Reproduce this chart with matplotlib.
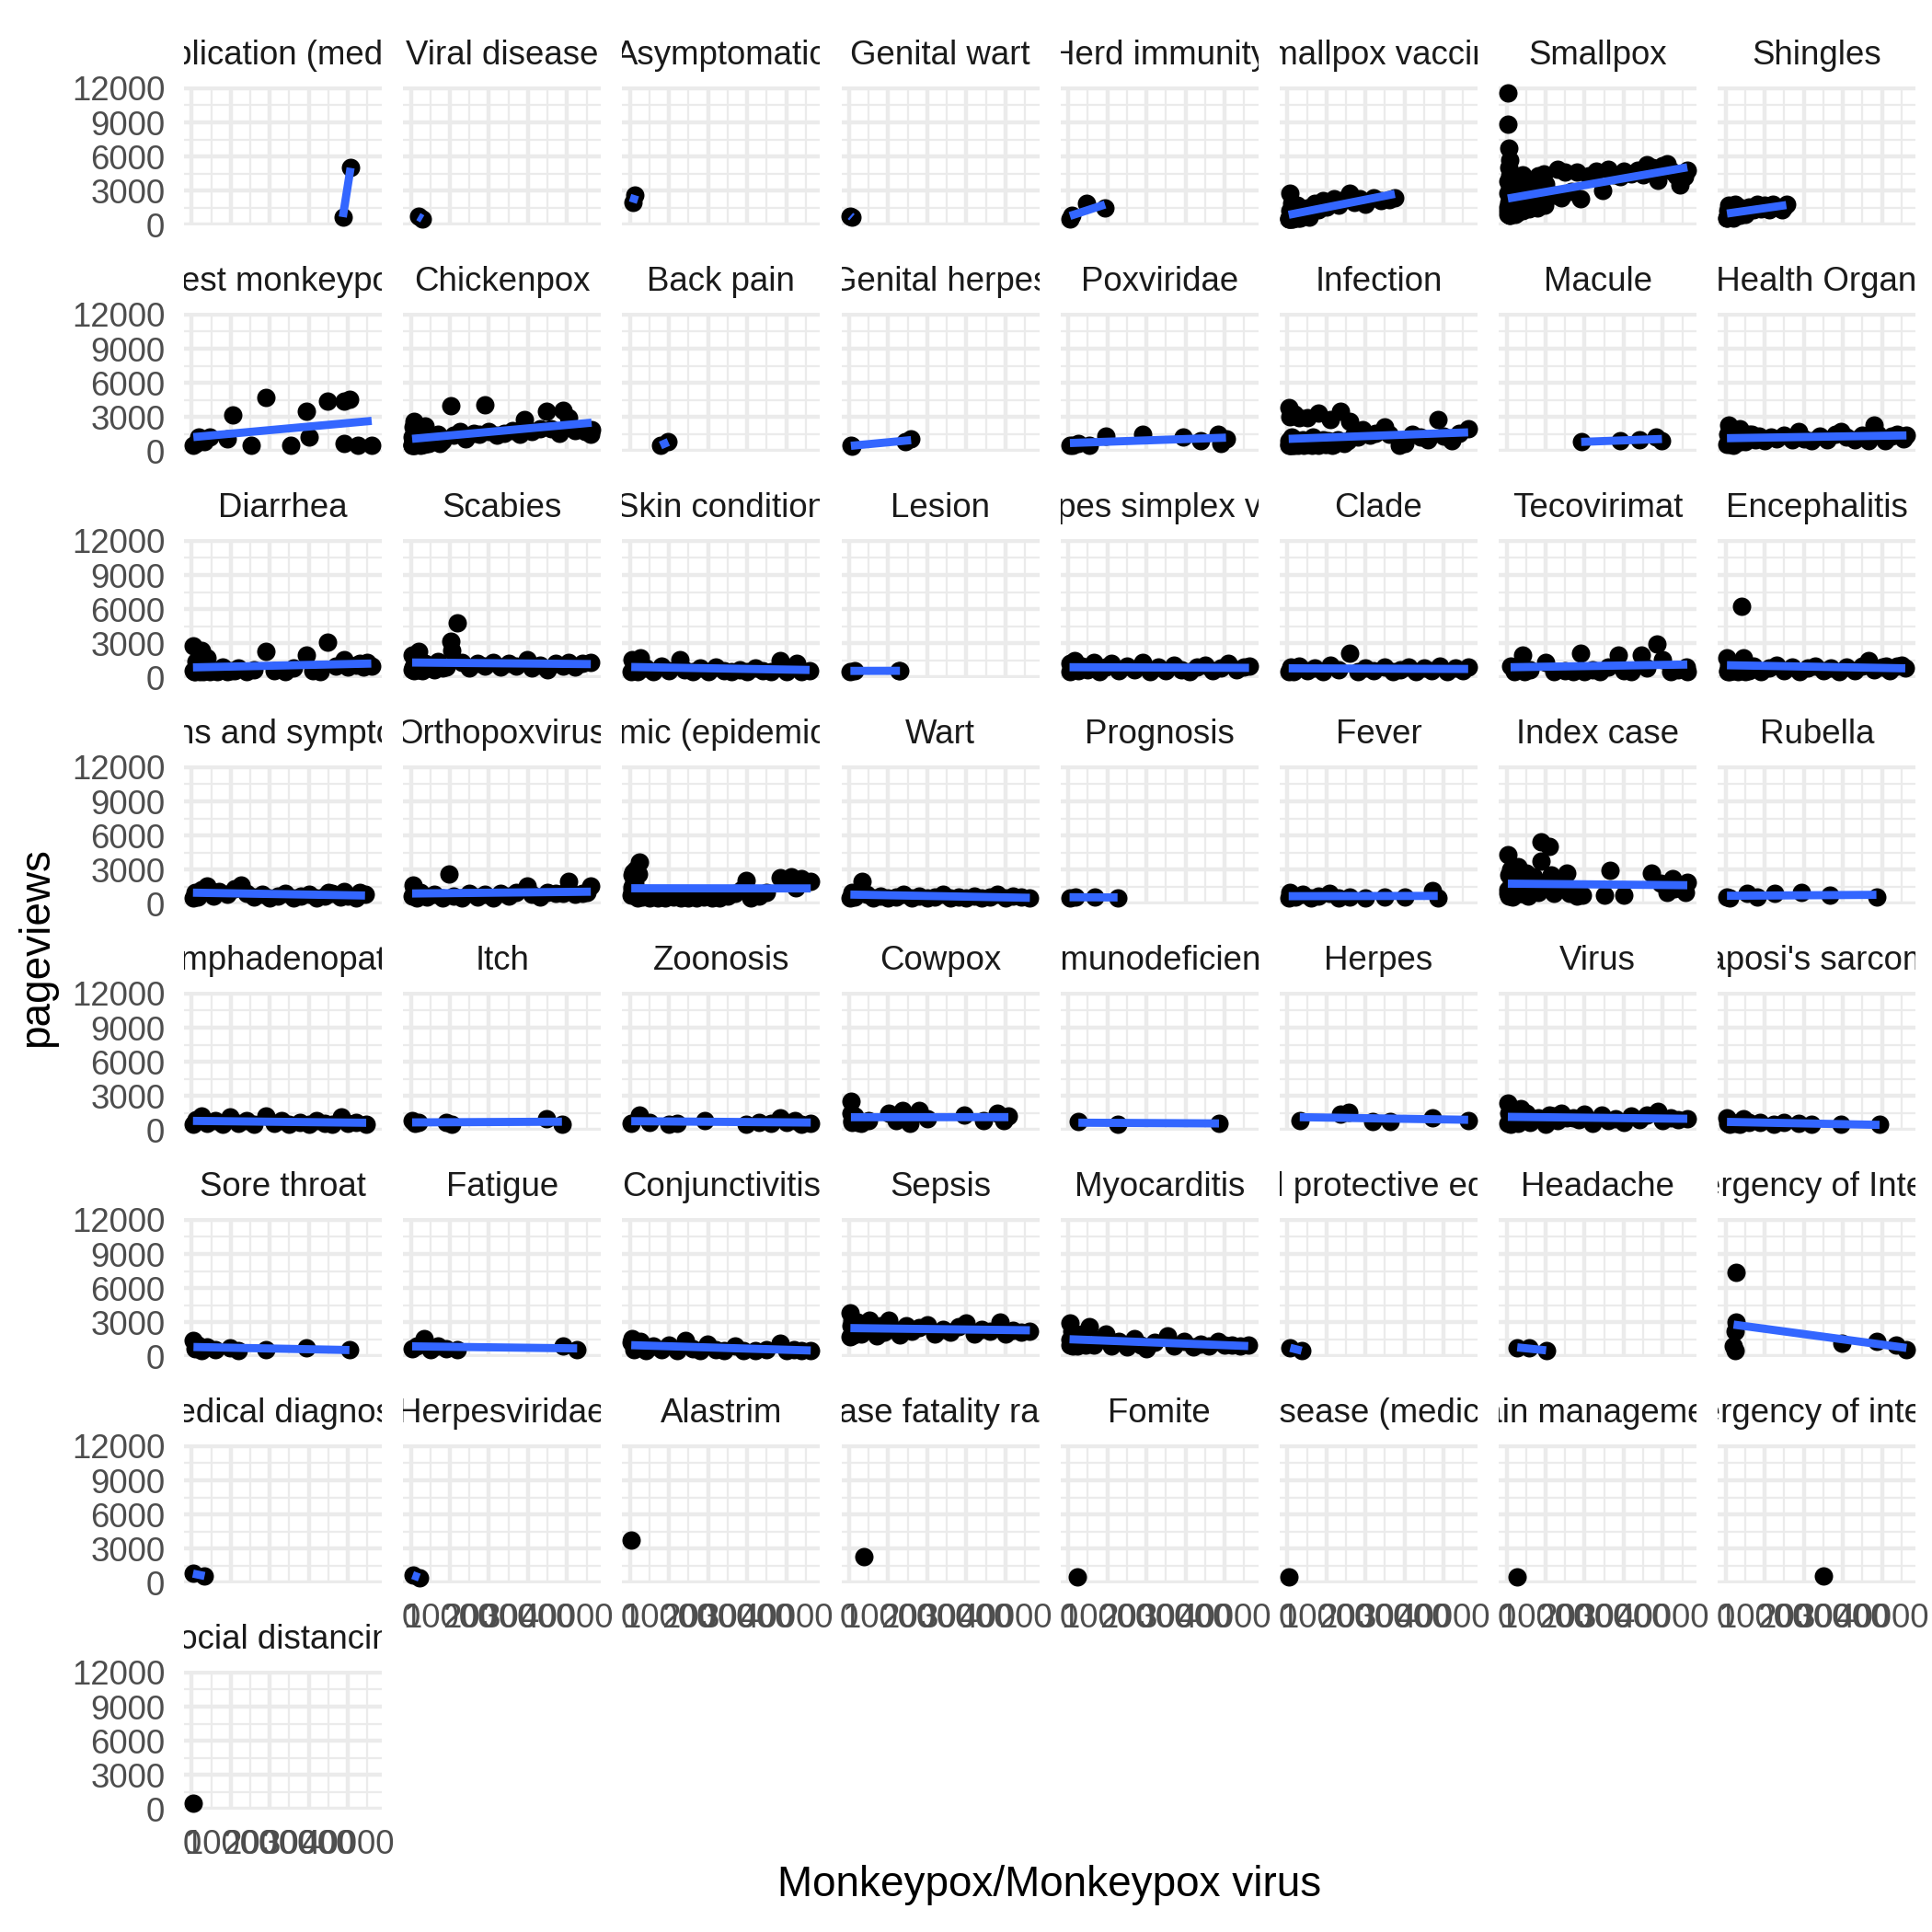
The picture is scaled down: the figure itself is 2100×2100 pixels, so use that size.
#!/usr/bin/env python3
"""Pageviews of articles linked from Monkeypox vs. Monkeypox pageviews, one facet per article."""

import numpy as np
import matplotlib
matplotlib.use("Agg")
import matplotlib.pyplot as plt
from matplotlib.transforms import Bbox, TransformedBbox

plt.rcParams["font.family"] = ["Liberation Sans", "DejaVu Sans"]

# x = daily pageviews of "Monkeypox/Monkeypox virus", y = pageviews of the facet article
complication_x = [38700, 40700]
complication_y = [680, 5000]
viral_disease_x = [1900, 2900]
viral_disease_y = [720, 520]
asymptomatic_x = [700, 1300]
asymptomatic_y = [1950, 2600]
genital_wart_x = [300, 700]
genital_wart_y = [780, 660]
herd_immunity_x = [400, 900, 4700, 9400]
herd_immunity_y = [500, 800, 1850, 1500]
smallpox_vaccine_x = [300, 500, 700, 900, 1100, 1300, 1500, 1800, 2000, 2500, 3000, 3500, 4000, 5000,
                      5500, 6000, 7000, 8000, 9000, 10000, 11000, 12000, 13000, 14500, 16000, 17000,
                      18500, 20000, 22000, 24000, 26000, 27500,
                      400, 600, 800, 1200, 1600, 2200, 3200, 4500, 350, 650, 1000, 1400, 2800]
smallpox_vaccine_y = [500, 1200, 2800, 800, 1900, 500, 1400, 600, 1000, 1700, 800, 1200, 900, 1500,
                      700, 1200, 1900, 1300, 2100, 1600, 1900, 2300, 1700, 2200, 2800, 2000,
                      2300, 1800, 2400, 2100, 2200, 2400,
                      600, 500, 700, 600, 800, 700, 600, 800, 500, 600, 500, 700, 600]
smallpox_x = [300, 400, 600, 900, 500, 700, 300, 800, 400, 1000, 600, 300, 1200, 500, 900, 1500, 1800,
              2000, 2500, 2800, 3000, 3500, 4000, 4500, 5000, 5500, 6000, 7000, 7500, 8000, 9000,
              9500, 10000, 11000, 12000, 13000, 14000, 15000, 16500, 18000, 19000, 21000, 23000,
              24500, 26000, 27500, 29000, 30000, 32000, 35000, 37300, 38700, 40000, 42300, 44400,
              45500, 46300,
              350, 450, 550, 650, 750, 850, 1100, 1300, 1600, 2200, 2600, 3200, 3800, 4200, 5200,
              6500, 7200, 8500, 33500, 36000, 41000, 43500,
              400, 600, 800, 1000, 1400, 1700, 2100, 2400, 2700, 3300, 4100, 4700, 5800, 6800, 7800,
              8800, 9800]
smallpox_y = [11600, 8800, 6700, 5700, 5000, 4300, 3800, 3300, 2800, 2400, 2000, 1600, 1300, 1000,
              800, 2900, 3600, 4200, 1800, 2600, 1200, 3000, 4400, 1500, 2200, 3800, 2900, 1900,
              3300, 4300, 2500, 4500, 3600, 2800, 2600, 4900, 2400, 4600, 2900, 4600, 2300, 4300,
              4700, 3000, 4900, 4400, 4200, 4700, 4500, 4400, 5000, 3900, 5200, 4700, 3500,
              4200, 4800,
              1200, 900, 1500, 1100, 1800, 1000, 1300, 1600, 1200, 1500, 1100, 1700, 1400, 1900, 1600,
              2000, 1800, 2100, 4800, 5300, 5400, 4300,
              900, 1100, 800, 1200, 1000, 1300, 900, 1400, 1100, 1500, 1200, 1600, 1400, 1700, 1500,
              1900, 1700]
shingles_x = [300, 400, 600, 800, 1000, 1500, 2000, 2500, 3000, 4000, 5000, 6000, 7000, 8000, 9000,
              10000, 11000, 12000, 13500, 14500, 15000, 15500, 350, 700, 1200, 1800, 3500]
shingles_y = [600, 1200, 800, 1700, 1000, 1400, 600, 1800, 1200, 1500, 900, 1600, 1300, 1800, 1400,
              1700, 1300, 1800, 1500, 1300, 1600, 1800, 600, 700, 800, 900, 800]
midwest_x = [400, 1140, 1860, 3280, 4700, 9000, 10400, 15100, 19000, 25400, 29400, 30100, 34700,
             39000, 40400, 39000, 42600, 46100]
midwest_y = [500, 670, 1200, 800, 1200, 1070, 3200, 530, 4720, 530, 3470, 1200, 4400, 4400, 4530,
             670, 530, 530]
chickenpox_x = [300, 400, 500, 700, 900, 1200, 1500, 1800, 2000, 2500, 3000, 3500, 4000, 5000, 6000,
                7000, 8000, 10100, 11000, 12500, 14000, 16000, 17500, 19000, 20000, 22000, 24000,
                26000, 28000, 29000, 31000, 33000, 34700, 36000, 38000, 39000, 40400, 42000, 44700,
                46300, 46000, 400, 600, 800, 1000, 1400, 2200, 2800, 4500,
                350, 700, 1100, 1600, 2400, 3300, 5500, 7500]
chickenpox_y = [500, 1200, 2100, 1600, 2600, 900, 2300, 1400, 600, 1900, 1100, 2200, 700, 1300, 1000,
                1500, 900, 4000, 1400, 1700, 1100, 1600, 1500, 4080, 1700, 1400, 1600, 1800, 1500,
                2800, 1700, 2000, 3470, 2000, 1600, 3600, 2930, 1800, 1730, 1870, 1500,
                600, 900, 500, 700, 600, 800, 600, 700,
                500, 600, 500, 700, 500, 600, 800, 700]
back_pain_x = [7800, 9800]
back_pain_y = [500, 800]
genital_herpes_x = [430, 700, 14300, 15850]
genital_herpes_y = [500, 450, 800, 1070]
poxviridae_x = [400, 1140, 2570, 5400, 9700, 19000, 29400, 34000, 38300, 39000, 40400]
poxviridae_y = [500, 530, 670, 500, 1330, 1470, 1200, 930, 1470, 670, 1070]
infection_x = [300, 300, 400, 500, 700, 900, 1100, 1300, 1500, 1800, 2000, 2300, 2600, 3000, 3300,
               3700, 4000, 4500, 5000, 5500, 6000, 6500, 7000, 7850, 8500, 9000, 9500, 10500, 11000,
               12000, 12800, 13600, 14500, 15500, 16000,
               350, 600, 800, 1200, 1700, 2200, 2800, 3500, 4200, 5200, 6200, 7500, 8000, 10000, 11500,
               17000, 18000, 19300, 21000, 22500, 25000, 26000, 28600, 30000, 32000, 34000, 36000,
               38600, 40000, 42100, 44000, 46300]
infection_y = [3800, 600, 900, 3000, 500, 700, 1200, 500, 800, 3300, 600, 1000, 700, 2900, 600,
               800, 1000, 600, 2930, 800, 700, 1200, 600, 3330, 700, 1000, 600, 900, 2800,
               600, 1000, 3470, 700, 900, 2600,
               500, 700, 500, 600, 500, 700, 500, 600, 500, 600, 500, 700, 500, 600, 500,
               1500, 1200, 1870, 1400, 1600, 2130, 1500, 500, 700, 1500, 1200, 1000,
               2800, 1300, 930, 1600, 2000]
macule_x = [19100, 29100, 34100, 38300, 39800]
macule_y = [800, 930, 990, 1200, 930]
who_x = [300, 400, 700, 1000, 1300, 1600, 2000, 2500, 3000, 3500, 4200, 5000, 6000, 6600, 7500, 8500,
         10000, 11500, 13000, 15000, 17000, 18700, 20000, 22000, 24000, 26000, 28000, 29400, 31000,
         33000, 35000, 36600, 37900, 39000, 40800, 42500, 44000, 45500, 46300,
         500, 900, 1500, 2300, 3800]
who_y = [600, 1500, 2270, 900, 1800, 1200, 500, 1600, 1000, 2000, 1300, 800, 1500, 1470, 1000, 1300,
         900, 1200, 1100, 1400, 1000, 1730, 1100, 900, 1300, 1000, 1500, 1730, 1200,
         1000, 1400, 930, 2270, 1500, 930, 1300, 1500, 1070, 1400,
         700, 600, 800, 700, 800]
diarrhea_x = [300, 600, 1000, 1500, 2570, 3000, 4000, 5000, 6500, 8000, 10000, 12000, 14000, 16000,
              19000, 21000, 24000, 26000, 29400, 31000, 33000, 34700, 37000, 39000, 40000, 42000,
              44000, 46000, 400, 800, 1200, 2000, 3500, 4500, 7000, 9000, 11000, 45000, 43000]
diarrhea_y = [2800, 500, 1400, 800, 2400, 500, 1730, 700, 500, 900, 600, 800, 500, 700,
              2270, 600, 500, 800, 2000, 600, 500, 3070, 1000, 1600, 900, 1100,
              900, 1000, 600, 500, 700, 500, 600, 500, 600, 500, 600, 1300, 1200]
scabies_x = [300, 600, 1000, 1850, 2500, 3500, 5000, 7000, 9000, 10100, 10400, 11900, 13000, 15000,
             17000, 19000, 21000, 23000, 25000, 27000, 29700, 31000, 33000, 35000, 37000, 39000,
             40400, 42000, 44000, 46100, 400, 800, 1300, 2000, 3000, 4000, 6000, 8000]
scabies_y = [2000, 900, 1500, 2270, 700, 1200, 1000, 1400, 900, 3200, 2400, 4800, 1300, 800,
             1200, 1000, 1300, 900, 1200, 1000, 1600, 800, 1100, 700, 1200, 1000,
             1330, 900, 1200, 1330, 700, 600, 900, 700, 600, 800, 700, 800]
skin_condition_x = [300, 570, 1000, 2000, 2700, 4000, 6000, 8000, 10000, 12700, 14000, 16000, 18000,
                    20000, 22000, 24000, 26000, 28000, 30000, 32000, 34000, 36000, 38400, 40000,
                    42700, 44000, 46000]
skin_condition_y = [500, 1600, 900, 500, 1730, 800, 500, 1000, 600, 1600, 700, 500, 800,
                    500, 900, 600, 500, 700, 500, 800, 600, 500, 1470, 500,
                    1200, 500, 600]
lesion_x = [300, 1500, 12700, 13000]
lesion_y = [550, 600, 600, 560]
hsv_x = [300, 500, 900, 1500, 2500, 3500, 5000, 6500, 8000, 9500, 11000, 13000, 15000, 17000, 19000,
         21000, 23000, 25000, 27000, 29000, 31000, 33000, 35000, 37000, 39000, 41000, 43000, 45000,
         46300]
hsv_y = [500, 1200, 800, 1500, 600, 1000, 700, 1300, 500, 900, 1200, 600, 1000, 700, 1300,
         500, 900, 600, 1100, 700, 500, 900, 1100, 600, 800, 1200, 700, 900,
         1000]
clade_x = [300, 800, 1500, 3000, 5000, 7000, 9000, 11000, 13000, 16000, 18000, 20000, 22000, 25000,
           27000, 29000, 31000, 33000, 35000, 37000, 39000, 41000, 43000, 45000, 46300]
clade_y = [500, 900, 500, 1000, 600, 800, 500, 1100, 700, 2130, 500, 800, 600, 900,
           500, 700, 900, 500, 800, 600, 1000, 500, 800, 600, 900]
tecovirimat_x = [1000, 2000, 4140, 4500, 6000, 10000, 12000, 15000, 17000, 19000, 20000, 22000, 24000,
                 26000, 28700, 30000, 32000, 34400, 36000, 38600, 40000, 42000, 44000, 46300, 46000]
tecovirimat_y = [1000, 500, 2000, 500, 700, 1330, 500, 600, 500, 2130, 500, 700, 500,
                 900, 2000, 600, 500, 2000, 800, 2930, 1600, 500, 700, 500, 900]
encephalitis_x = [300, 400, 800, 1500, 2500, 4140, 4400, 5500, 7000, 9000, 11000, 13000, 15000, 17000,
                  19000, 21000, 23000, 25000, 27000, 29000, 31000, 33000, 35000, 36600, 38000, 40000,
                  42000, 44000, 46000, 500, 1000, 2000, 3000, 3500, 5000, 6000, 41000, 45000]
encephalitis_y = [1730, 500, 1100, 600, 900, 6270, 1730, 700, 1000, 500, 800, 1100, 600, 900,
                  500, 800, 1000, 600, 800, 500, 900, 600, 1000, 1470, 700, 900,
                  600, 1000, 800, 600, 500, 600, 500, 700, 500, 600, 1000, 1100]
signs_x = [300, 800, 1500, 2500, 4000, 5500, 7000, 9000, 11000, 12600, 14000, 16000, 18000, 20000,
           22000, 24000, 26000, 28000, 30000, 32000, 34000, 36000, 38000, 40000, 42000, 44400,
           35000, 39000, 43000]
signs_y = [500, 1000, 600, 1200, 1550, 700, 1100, 800, 1300, 1680, 900, 600, 800, 500,
           700, 900, 500, 700, 800, 500, 700, 900, 600, 700, 500, 800,
           1000, 1100, 1000]
orthopox_x = [300, 430, 800, 1500, 2500, 4000, 6000, 8000, 9700, 11000, 13000, 15000, 17000, 19000,
              21000, 23000, 25000, 27000, 29700, 31000, 33000, 35000, 37000, 39000, 40400, 42000,
              44000, 46100, 45000]
orthopox_y = [700, 1680, 1300, 500, 1000, 600, 800, 500, 2600, 700, 500, 900, 600, 800,
              500, 900, 700, 1000, 1550, 800, 600, 1000, 900, 900, 1950, 800,
              900, 1550, 1000]
endemic_x = [300, 500, 1000, 1500, 2430, 2000, 3000, 5000, 7000, 9000, 11000, 13000, 15000, 17000,
             19000, 21000, 23000, 25000, 27000, 28500, 29800, 31000, 33000, 35000, 38400,
             40000, 41200, 42500, 44000, 46300, 400, 600, 800, 1200, 1800, 2200]
endemic_y = [750, 1500, 2080, 3000, 3680, 500, 600, 500, 500, 500, 600, 500, 500, 500,
             600, 500, 500, 700, 900, 1200, 2080, 500, 700, 1000, 2300,
             2100, 2350, 1400, 2200, 2000, 2500, 1200, 2800, 1800, 1100, 2600]
wart_x = [300, 800, 1500, 3400, 4500, 6000, 8000, 10000, 12000, 14000, 16000, 18000, 20000, 22000,
          24000, 26000, 28000, 30000, 32000, 34000, 36000, 38000, 40000, 42000, 44000, 46300]
wart_y = [500, 1000, 600, 1950, 800, 500, 700, 500, 600, 800, 500, 700, 500, 600,
          800, 500, 600, 500, 700, 500, 600, 800, 500, 700, 600, 500]
prognosis_x = [300, 1860, 6850, 12600]
prognosis_y = [530, 600, 600, 530]
fever_x = [300, 710, 2000, 4000, 6000, 8000, 10700, 13000, 16000, 20000, 25000, 30000, 37100, 38500]
fever_y = [500, 1010, 600, 800, 500, 700, 880, 500, 600, 500, 600, 610, 1150, 480]
index_case_x = [300, 300, 500, 700, 1000, 1300, 1600, 2000, 2500, 3000, 3500, 4000, 4500, 5000, 5500,
                6000, 7000, 8000, 8700, 8700, 9500, 10850, 11500, 12000, 13000, 14000, 15500, 17000,
                18000, 400, 800, 1500, 2800, 4800, 6500, 9000, 12500, 16000, 600, 2200, 3800,
                19400, 25100, 26600, 30100, 37000, 39400, 41000, 42500, 43000, 44500, 45800, 46300]
index_case_y = [4350, 1200, 2500, 800, 3000, 1800, 600, 2200, 1400, 3300, 900, 2000, 1200, 2700, 700,
                1600, 2400, 1000, 5470, 3730, 1800, 5070, 2500, 900, 2100, 1500, 2700, 1100,
                700, 900, 1300, 700, 1000, 800, 1100, 1300, 1200, 900, 700, 800, 900,
                750, 750, 2930, 750, 2670, 1800, 1000, 2200, 1300, 1600, 1010, 1900]
rubella_x = [300, 1000, 5400, 8000, 12600, 19400, 26600, 38600]
rubella_y = [610, 500, 880, 600, 880, 1010, 750, 610]
lymph_x = [300, 1000, 2570, 4000, 6000, 8000, 9700, 12000, 14000, 16000, 19000, 21000, 23000, 25000,
           27600, 30000, 32000, 34000, 36000, 38300, 40000, 42000, 44700]
lymph_y = [500, 900, 1250, 600, 800, 500, 1150, 600, 800, 500, 1200, 600, 800, 500,
           700, 500, 800, 600, 500, 1150, 600, 700, 500]
itch_x = [300, 1000, 1860, 9000, 10400, 34700, 38700]
itch_y = [800, 600, 700, 700, 530, 1000, 530]
zoonosis_x = [300, 2430, 5000, 9900, 12000, 19100, 29800, 33000, 36000, 38400, 40000, 42300, 44000,
              46300]
zoonosis_y = [600, 1330, 700, 500, 600, 800, 500, 700, 600, 1070, 700, 800, 500, 600]
cowpox_x = [430, 430, 800, 1500, 3000, 10100, 12000, 13700, 15500, 18000, 20000, 29400, 34400, 38000,
            39500, 40800, 600, 1000, 2000, 5000]
cowpox_y = [2530, 1470, 800, 1200, 600, 1470, 800, 1730, 600, 1730, 1000, 1330, 800, 1470,
            800, 1200, 700, 900, 700, 800]
immunodef_x = [2570, 12600, 38600]
immunodef_y = [720, 530, 610]
herpes_x = [3140, 13600, 15700, 21800, 26400, 37100, 46300]
herpes_y = [800, 1400, 1550, 750, 750, 1070, 850]
virus_x = [300, 300, 500, 800, 1000, 1300, 1600, 2000, 2500, 3000, 3500, 4000, 5000, 6000, 7000, 8000,
           9000, 10000, 11000, 12000, 13000, 14000, 15500, 17000, 18500, 20000, 22000, 24400,
           26000, 28000, 30000, 32000, 34000, 36000, 38700, 40000, 42000, 44000, 46300]
virus_y = [2400, 600, 1500, 1400, 500, 1100, 900, 1600, 1200, 600, 1900, 1000, 1500, 700, 1000, 1100,
           900, 500, 1300, 1200, 800, 1500, 1100, 1100, 900, 1400, 600, 1330,
           800, 1000, 700, 1200, 900, 1300, 1650, 800, 1100, 900, 1000]
kaposi_x = [300, 500, 1500, 4400, 6000, 8700, 12300, 15000, 18700, 22000, 29400, 39400, 1000, 2500,
            3500]
kaposi_y = [1070, 600, 700, 1000, 700, 700, 500, 700, 600, 500, 500, 500, 500, 600, 500]
sore_throat_x = [430, 800, 1500, 2500, 4000, 6000, 9700, 12000, 19000, 29400, 40400]
sore_throat_y = [1420, 700, 1000, 500, 800, 600, 750, 500, 620, 750, 620]
fatigue_x = [300, 1500, 3280, 5000, 6850, 9000, 11900, 39000, 42600]
fatigue_y = [700, 900, 1550, 600, 880, 700, 600, 880, 620]
conjunctivitis_x = [300, 570, 1000, 1500, 2700, 4000, 6000, 8000, 10000, 12000, 14100, 16000, 18000,
                    19800, 22000, 24000, 27000, 29000, 32000, 35000, 38400, 40000, 42000, 44000,
                    46300]
conjunctivitis_y = [1200, 1550, 600, 1000, 1290, 500, 900, 600, 1000, 500, 1420, 700, 500,
                    1100, 600, 500, 900, 500, 500, 600, 1150, 500, 600, 500,
                    500]
sepsis_x = [300, 300, 500, 800, 1200, 1600, 2200, 3000, 4000, 5100, 6000, 7000, 8000, 9000, 10100,
            11500, 13000, 14500, 16000, 18000, 20000, 22000, 24000, 26000, 28000, 30000, 32000,
            34000, 36000, 38600, 40000, 42000, 44000, 46300, 400, 700]
sepsis_y = [3830, 1700, 2700, 3160, 1900, 2500, 3000, 2000, 2600, 3160, 2200, 1800, 2700, 2100, 3160,
            2400, 1900, 2700, 2200, 2500, 2760, 2000, 2400, 2100, 2600, 2900, 2000,
            2400, 2200, 3030, 2000, 2300, 2100, 2230, 1800, 2000]
myocarditis_x = [300, 500, 800, 1200, 1800, 2500, 3500, 5400, 6500, 8000, 9700, 11000, 13000, 15000,
                 16800, 18500, 20000, 22000, 25400, 27000, 29700, 32000, 34000, 36000, 38300, 40000,
                 42000, 44000, 46100, 400, 700, 1500, 2200, 3000, 4500]
myocarditis_y = [2900, 1500, 2200, 900, 1700, 1200, 2000, 2630, 1000, 1500, 1960, 900, 1300, 800,
                 1550, 1000, 700, 1200, 1830, 900, 1300, 800, 1100, 900, 1290, 1000,
                 1000, 900, 1020, 1000, 1200, 1100, 900, 1300, 1000]
ppe_x = [700, 3600]
ppe_y = [750, 500]
headache_x = [2710, 5850, 10100]
headache_y = [750, 750, 500]
pheic_x = [2570, 2570, 2400, 2000, 2300, 29700, 38700, 43700, 46300]
pheic_y = [7400, 3030, 2200, 880, 500, 1150, 1290, 1020, 620]
diagnosis_x = [300, 3280]
diagnosis_y = [800, 590]
herpesviridae_x = [430, 2140]
herpesviridae_y = [670, 450]
alastrim_x = [300]
alastrim_y = [3730]
cfr_x = [3710]
cfr_y = [2270]
fomite_x = [2280]
fomite_y = [500]
infectious_disease_x = [300]
infectious_disease_y = [530]
pain_mgmt_x = [2710]
pain_mgmt_y = [530]
pheic_lower_x = [25100]
pheic_lower_y = [590]
social_dist_x = [300]
social_dist_y = [550]

x_breaks = [0, 10000, 20000, 30000, 40000]
x_labels = ["0", "10000", "20000", "30000", "40000"]
y_breaks = [0, 3000, 6000, 9000, 12000]
y_labels = ["0", "3000", "6000", "9000", "12000"]

facets = [
    ("Complication (medicine)", complication_x, complication_y),
    ("Viral disease", viral_disease_x, viral_disease_y),
    ("Asymptomatic", asymptomatic_x, asymptomatic_y),
    ("Genital wart", genital_wart_x, genital_wart_y),
    ("Herd immunity", herd_immunity_x, herd_immunity_y),
    ("Smallpox vaccine", smallpox_vaccine_x, smallpox_vaccine_y),
    ("Smallpox", smallpox_x, smallpox_y),
    ("Shingles", shingles_x, shingles_y),
    ("2003 Midwest monkeypox outbreak", midwest_x, midwest_y),
    ("Chickenpox", chickenpox_x, chickenpox_y),
    ("Back pain", back_pain_x, back_pain_y),
    ("Genital herpes", genital_herpes_x, genital_herpes_y),
    ("Poxviridae", poxviridae_x, poxviridae_y),
    ("Infection", infection_x, infection_y),
    ("Macule", macule_x, macule_y),
    ("World Health Organization", who_x, who_y),
    ("Diarrhea", diarrhea_x, diarrhea_y),
    ("Scabies", scabies_x, scabies_y),
    ("Skin condition", skin_condition_x, skin_condition_y),
    ("Lesion", lesion_x, lesion_y),
    ("Herpes simplex virus", hsv_x, hsv_y),
    ("Clade", clade_x, clade_y),
    ("Tecovirimat", tecovirimat_x, tecovirimat_y),
    ("Encephalitis", encephalitis_x, encephalitis_y),
    ("Signs and symptoms", signs_x, signs_y),
    ("Orthopoxvirus", orthopox_x, orthopox_y),
    ("Endemic (epidemiology)", endemic_x, endemic_y),
    ("Wart", wart_x, wart_y),
    ("Prognosis", prognosis_x, prognosis_y),
    ("Fever", fever_x, fever_y),
    ("Index case", index_case_x, index_case_y),
    ("Rubella", rubella_x, rubella_y),
    ("Lymphadenopathy", lymph_x, lymph_y),
    ("Itch", itch_x, itch_y),
    ("Zoonosis", zoonosis_x, zoonosis_y),
    ("Cowpox", cowpox_x, cowpox_y),
    ("Immunodeficiency", immunodef_x, immunodef_y),
    ("Herpes", herpes_x, herpes_y),
    ("Virus", virus_x, virus_y),
    ("Kaposi's sarcoma", kaposi_x, kaposi_y),
    ("Sore throat", sore_throat_x, sore_throat_y),
    ("Fatigue", fatigue_x, fatigue_y),
    ("Conjunctivitis", conjunctivitis_x, conjunctivitis_y),
    ("Sepsis", sepsis_x, sepsis_y),
    ("Myocarditis", myocarditis_x, myocarditis_y),
    ("Personal protective equipment", ppe_x, ppe_y),
    ("Headache", headache_x, headache_y),
    ("Public Health Emergency of International Concern", pheic_x, pheic_y),
    ("Medical diagnosis", diagnosis_x, diagnosis_y),
    ("Herpesviridae", herpesviridae_x, herpesviridae_y),
    ("Alastrim", alastrim_x, alastrim_y),
    ("Case fatality rate", cfr_x, cfr_y),
    ("Fomite", fomite_x, fomite_y),
    ("Infectious disease (medical specialty)", infectious_disease_x, infectious_disease_y),
    ("Pain management", pain_mgmt_x, pain_mgmt_y),
    ("Public health emergency of international concern", pheic_lower_x, pheic_lower_y),
    ("Social distancing", social_dist_x, social_dist_y),
]

N_COLS = 8
PX = 2100.0
GRID = "#EBEBEB"


def main():
    fig = plt.figure(figsize=(7, 7), dpi=300)
    fig.patch.set_facecolor("white")
    n = len(facets)

    for i, (name, xs, ys) in enumerate(facets):
        row, col = divmod(i, N_COLS)
        last_row = (n - 1 - col) // N_COLS
        left = (200 + 238.2 * col) / PX
        bottom = 1 - (94 + 246 * row + 151) / PX
        ax = fig.add_axes([left, bottom, 215 / PX, 151 / PX])

        ax.set_xlim(-2000, 48700)
        ax.set_ylim(-55, 12155)
        ax.set_xticks(x_breaks, labels=x_labels)
        ax.set_xticks([5000, 15000, 25000, 35000, 45000], minor=True)
        ax.set_yticks(y_breaks, labels=y_labels)
        ax.set_yticks([1500, 4500, 7500, 10500], minor=True)
        ax.grid(which="major", color=GRID, linewidth=1.07)
        ax.grid(which="minor", color=GRID, linewidth=0.53)
        ax.set_axisbelow(True)
        ax.tick_params(which="both", length=0)
        ax.tick_params(labelsize=8.8, labelcolor="#4D4D4D", pad=4.95)
        ax.tick_params(labelleft=(col == 0), labelbottom=(row == last_row))
        for spine in ax.spines.values():
            spine.set_visible(False)

        ax.scatter(xs, ys, s=4.8 ** 2, c="black", linewidths=0, zorder=2, clip_on=False)
        if len(xs) >= 2:
            slope, intercept = np.polyfit(xs, ys, 1)
            xx = np.array([min(xs), max(xs)])
            ax.plot(xx, slope * xx + intercept, color="#3366FF", linewidth=2.13, zorder=3,
                    solid_capstyle="butt")

        # strip label, clipped to the panel width like ggplot's facet strips
        t = fig.text(0.5, 1 + 24 / 151, name, transform=ax.transAxes, ha="center",
                     va="baseline", fontsize=8.8, color="#1A1A1A")
        t.set_clip_box(TransformedBbox(Bbox([[0, 1], [1, 1.6]]), ax.transAxes))
        t.set_clip_on(True)

    fig.text((200 + 2082) / 2 / PX, 1 - 2049 / PX, "Monkeypox/Monkeypox virus",
             ha="center", va="center", fontsize=11)
    fig.text(40 / PX, 1 - 1030 / PX, "pageviews", rotation=90,
             ha="center", va="center", fontsize=11)

    fig.savefig("out.png", dpi=300, facecolor="white")
    plt.close(fig)


if __name__ == "__main__":
    main()
